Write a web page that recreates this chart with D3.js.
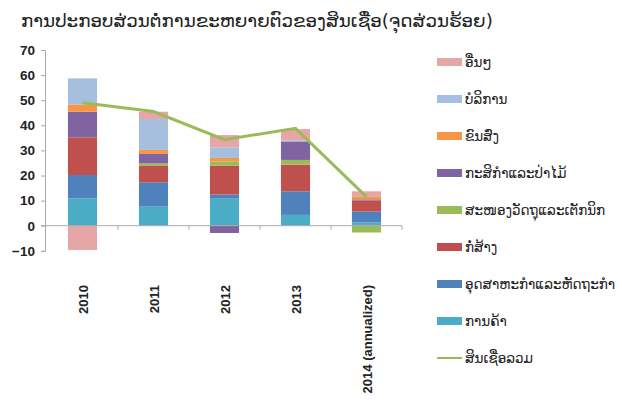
<!DOCTYPE html>
<html>
<head>
<meta charset="utf-8">
<script src="https://cdn.jsdelivr.net/npm/d3@7"></script>
<style>
  body { margin: 0; background: #fff; }
  text { font-family: "DejaVu Sans", "Noto Sans", sans-serif; }
</style>
</head>
<body>
<script>
// categories along the x axis
var years = ["2010", "2011", "2012", "2013", "2014 (annualized)"];

// sectors, bottom of the stack first
var sectors = ["ການຄ້າ", "ອຸດສາຫະກຳແລະຫັດຖະກຳ", "ກໍ່ສ້າງ", "ສະໜອງວັດຖຸແລະເຕັກນິກ",
               "ກະສິກຳແລະປ່າໄມ້", "ຂົນສົ່ງ", "ບໍລິການ", "ອື່ນໆ"];
var colors = ["#4bacc6", "#4f81bd", "#c0504d", "#9bbb59", "#8064a2", "#f79646", "#a7bfde", "#e6a5a7"];

// contribution of each sector, one value per year
var trade        = [10.9, 7.6, 11.0, 4.3, 1.3];
var industry     = [9.3, 9.7, 1.4, 9.4, 4.3];
var construction = [15.0, 6.5, 11.5, 10.6, 4.4];
var materials    = [0, 1.0, 1.7, 1.9, -2.7];
var agriculture  = [10.2, 3.8, -2.9, 7.4, 0.5];
var transport    = [2.9, 1.6, 1.4, 0, 1.2];
var services     = [10.4, 12.3, 4.2, 0.4, 0];
var others       = [-9.7, 2.9, 4.9, 4.5, 2.0];

// total credit growth (line)
var totalName = "ສິນເຊື່ອລວມ";
var total = [49.0, 45.5, 34.3, 38.8, 11.5];

var yTicks = [-10, 0, 10, 20, 30, 40, 50, 60, 70];

var series = [trade, industry, construction, materials, agriculture, transport, services, others];
var rows = years.map(function(y, i) {
    var r = { year: y };
    sectors.forEach(function(s, k) { r[s] = series[k][i]; });
    return r;
});

var W = 622, H = 402;
var svg = d3.select("body").append("svg").attr("width", W).attr("height", H);

// title
svg.append("text")
    .attr("x", 21).attr("y", 27)
    .style("font-size", "18.3px")
    .style("fill", "#222")
    .text("ການປະກອບສ່ວນຕໍ່ການຂະຫຍາຍຕົວຂອງສິນເຊື່ອ(ຈຸດສ່ວນຮ້ອຍ)");

var x = d3.scaleBand().domain(years).range([47, 402]).paddingInner(0.59).paddingOuter(0.295);
var y = d3.scaleLinear().domain([-10, 70]).range([250.8, 50]);

// stacked bars
var stack = d3.stack().keys(sectors).offset(d3.stackOffsetDiverging);
var layers = stack(rows);

svg.append("g").selectAll("g")
    .data(layers)
    .enter().append("g")
    .attr("fill", function(d, i) { return colors[i]; })
    .selectAll("rect")
    .data(function(d) { return d; })
    .enter().append("rect")
    .attr("x", function(d) { return x(d.data.year); })
    .attr("width", x.bandwidth())
    .attr("y", function(d) { return y(Math.max(d[0], d[1])); })
    .attr("height", function(d) { return Math.abs(y(d[0]) - y(d[1])); });

// y axis
var yAxis = svg.append("g")
    .attr("transform", "translate(45,0)")
    .call(d3.axisLeft(y).tickValues(yTicks).tickSize(4).tickPadding(6));
yAxis.select(".domain").attr("stroke", "#aaa");
yAxis.selectAll(".tick line").attr("stroke", "#aaa");
yAxis.selectAll("text")
    .style("font-size", "13.5px")
    .style("font-weight", "bold")
    .style("fill", "#222")
    .style("font-family", "'Liberation Sans', sans-serif");

// x axis along zero
var step = x.step();
var xAxis = svg.append("g").attr("transform", "translate(0," + y(0) + ")");
xAxis.append("line")
    .attr("x1", 41).attr("x2", 402)
    .attr("stroke", "#aaa");
xAxis.selectAll(".sep")
    .data(years)
    .enter().append("line")
    .attr("x1", function(d) { return x(d) + x.bandwidth() / 2 + step / 2; })
    .attr("x2", function(d) { return x(d) + x.bandwidth() / 2 + step / 2; })
    .attr("y1", 0).attr("y2", 4)
    .attr("stroke", "#aaa");

svg.append("g").selectAll("text")
    .data(years)
    .enter().append("text")
    .attr("transform", function(d) {
        return "translate(" + (x(d) + x.bandwidth() / 2 + 5) + ",285) rotate(-90)";
    })
    .attr("text-anchor", "end")
    .style("font-size", "13px")
    .style("font-weight", "bold")
    .style("fill", "#222")
    .style("font-family", "'Liberation Sans', sans-serif")
    .text(function(d) { return d; });

// total line
var line = d3.line()
    .x(function(d, i) { return x(years[i]) + x.bandwidth() / 2; })
    .y(function(d) { return y(d); });
svg.append("path")
    .datum(total)
    .attr("d", line)
    .attr("fill", "none")
    .attr("stroke", "#9bbb59")
    .attr("stroke-width", 3);

// legend, top entry is the top of the stack
var legendItems = sectors.map(function(s, i) { return { name: s, color: colors[i], line: false }; }).reverse();
legendItems.push({ name: totalName, color: "#9bbb59", line: true });

var lg = svg.append("g").selectAll("g")
    .data(legendItems)
    .enter().append("g")
    .attr("transform", function(d, i) { return "translate(437," + (62 + i * 37) + ")"; });

lg.filter(function(d) { return !d.line; }).append("rect")
    .attr("x", 0).attr("y", -4)
    .attr("width", 25).attr("height", 8)
    .attr("fill", function(d) { return d.color; });
lg.filter(function(d) { return d.line; }).append("line")
    .attr("x1", 0).attr("x2", 25)
    .attr("stroke", function(d) { return d.color; })
    .attr("stroke-width", 2);
lg.append("text")
    .attr("x", 28).attr("y", 5)
    .style("font-size", "13.5px")
    .style("fill", "#222")
    .text(function(d) { return d.name; });
</script>
</body>
</html>
